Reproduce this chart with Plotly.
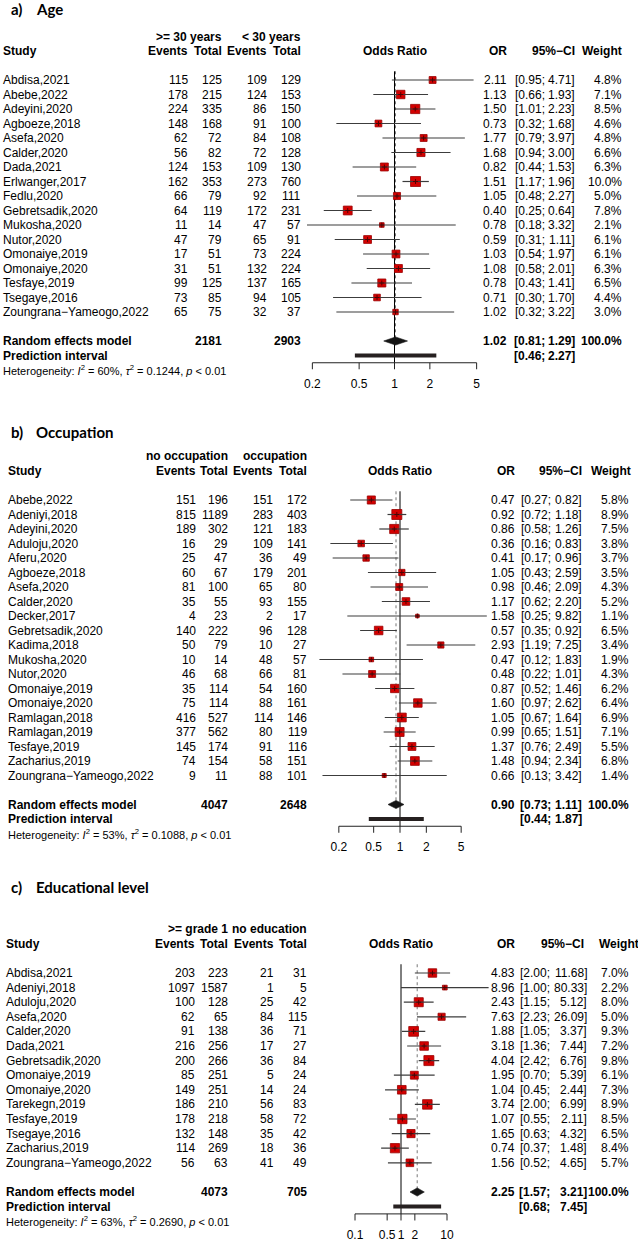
import plotly.graph_objects as go

W, H = 638, 1241
FONT = "Liberation Sans, Arial, sans-serif"
TITLE_FONT = "Lato, Open Sans, sans-serif"
MINUS = "\u2212"

# ---------------- a) Age ----------------
age_title = ["a)", "Age"]
age_groups = [">= 30 years", "< 30 years"]
age_study = ["Abdisa,2021", "Abebe,2022", "Adeyini,2020", "Agboeze,2018", "Asefa,2020",
             "Calder,2020", "Dada,2021", "Erlwanger,2017", "Fedlu,2020", "Gebretsadik,2020",
             "Mukosha,2020", "Nutor,2020", "Omonaiye,2019", "Omonaiye,2020", "Tesfaye,2019",
             "Tsegaye,2016", "Zoungrana" + MINUS + "Yameogo,2022"]
age_ev_e = [115, 178, 224, 148, 62, 56, 124, 162, 66, 64, 11, 47, 17, 31, 99, 73, 65]
age_n_e = [125, 215, 335, 168, 72, 82, 153, 353, 79, 119, 14, 79, 51, 51, 125, 85, 75]
age_ev_c = [109, 124, 86, 91, 84, 72, 109, 273, 92, 172, 47, 65, 73, 132, 137, 94, 32]
age_n_c = [129, 153, 150, 100, 108, 128, 130, 760, 111, 231, 57, 91, 224, 224, 165, 105, 37]
age_or = [2.11, 1.13, 1.50, 0.73, 1.77, 1.68, 0.82, 1.51, 1.05, 0.40, 0.78, 0.59, 1.03, 1.08, 0.78, 0.71, 1.02]
age_lo = [0.95, 0.66, 1.01, 0.32, 0.79, 0.94, 0.44, 1.17, 0.48, 0.25, 0.18, 0.31, 0.54, 0.58, 0.43, 0.30, 0.32]
age_hi = [4.71, 1.93, 2.23, 1.68, 3.97, 3.00, 1.53, 1.96, 2.27, 0.64, 3.32, 1.11, 1.97, 2.01, 1.41, 1.70, 3.22]
age_w = [4.8, 7.1, 8.5, 4.6, 4.8, 6.6, 6.3, 10.0, 5.0, 7.8, 2.1, 6.1, 6.1, 6.3, 6.5, 4.4, 3.0]
age_totals = [2181, 2903]
age_re = [1.02, 0.81, 1.29]
age_pi = [0.46, 2.27]
age_het = ["60%", "0.1244", "0.01"]
age_ticks = [0.2, 0.5, 1, 2, 5]

# ---------------- b) Occupation ----------------
occ_title = ["b)", "Occupation"]
occ_groups = ["no occupation", "occupation"]
occ_study = ["Abebe,2022", "Adeniyi,2018", "Adeyini,2020", "Aduloju,2020", "Aferu,2020",
             "Agboeze,2018", "Asefa,2020", "Calder,2020", "Decker,2017", "Gebretsadik,2020",
             "Kadima,2018", "Mukosha,2020", "Nutor,2020", "Omonaiye,2019", "Omonaiye,2020",
             "Ramlagan,2018", "Ramlagan,2019", "Tesfaye,2019", "Zacharius,2019",
             "Zoungrana" + MINUS + "Yameogo,2022"]
occ_ev_e = [151, 815, 189, 16, 25, 60, 81, 35, 4, 140, 50, 10, 46, 35, 75, 416, 377, 145, 74, 9]
occ_n_e = [196, 1189, 302, 29, 47, 67, 100, 55, 23, 222, 79, 14, 68, 114, 114, 527, 562, 174, 154, 11]
occ_ev_c = [151, 283, 121, 109, 36, 179, 65, 93, 2, 96, 10, 48, 66, 54, 88, 114, 80, 91, 58, 88]
occ_n_c = [172, 403, 183, 141, 49, 201, 80, 155, 17, 128, 27, 57, 81, 160, 161, 146, 119, 116, 151, 101]
occ_or = [0.47, 0.92, 0.86, 0.36, 0.41, 1.05, 0.98, 1.17, 1.58, 0.57, 2.93, 0.47, 0.48, 0.87, 1.60,
          1.05, 0.99, 1.37, 1.48, 0.66]
occ_lo = [0.27, 0.72, 0.58, 0.16, 0.17, 0.43, 0.46, 0.62, 0.25, 0.35, 1.19, 0.12, 0.22, 0.52, 0.97,
          0.67, 0.65, 0.76, 0.94, 0.13]
occ_hi = [0.82, 1.18, 1.26, 0.83, 0.96, 2.59, 2.09, 2.20, 9.82, 0.92, 7.25, 1.83, 1.01, 1.46, 2.62,
          1.64, 1.51, 2.49, 2.34, 3.42]
occ_w = [5.8, 8.9, 7.5, 3.8, 3.7, 3.5, 4.3, 5.2, 1.1, 6.5, 3.4, 1.9, 4.3, 6.2, 6.4, 6.9, 7.1, 5.5, 6.8, 1.4]
occ_totals = [4047, 2648]
occ_re = [0.90, 0.73, 1.11]
occ_pi = [0.44, 1.87]
occ_het = ["53%", "0.1088", "0.01"]
occ_ticks = [0.2, 0.5, 1, 2, 5]

# ---------------- c) Educational level ----------------
edu_title = ["c)", "Educational level"]
edu_groups = [">= grade 1", "no education"]
edu_study = ["Abdisa,2021", "Adeniyi,2018", "Aduloju,2020", "Asefa,2020", "Calder,2020",
             "Dada,2021", "Gebretsadik,2020", "Omonaiye,2019", "Omonaiye,2020", "Tarekegn,2019",
             "Tesfaye,2019", "Tsegaye,2016", "Zacharius,2019", "Zoungrana" + MINUS + "Yameogo,2022"]
edu_ev_e = [203, 1097, 100, 62, 91, 216, 200, 85, 149, 186, 178, 132, 114, 56]
edu_n_e = [223, 1587, 128, 65, 138, 256, 266, 251, 251, 210, 218, 148, 269, 63]
edu_ev_c = [21, 1, 25, 84, 36, 17, 36, 5, 14, 56, 58, 35, 18, 41]
edu_n_c = [31, 5, 42, 115, 71, 27, 84, 24, 24, 83, 72, 42, 36, 49]
edu_or = [4.83, 8.96, 2.43, 7.63, 1.88, 3.18, 4.04, 1.95, 1.04, 3.74, 1.07, 1.65, 0.74, 1.56]
edu_lo = [2.00, 1.00, 1.15, 2.23, 1.05, 1.36, 2.42, 0.70, 0.45, 2.00, 0.55, 0.63, 0.37, 0.52]
edu_hi = [11.68, 80.33, 5.12, 26.09, 3.37, 7.44, 6.76, 5.39, 2.44, 6.99, 2.11, 4.32, 1.48, 4.65]
edu_w = [7.0, 2.2, 8.0, 5.0, 9.3, 7.2, 9.8, 6.1, 7.3, 8.9, 8.5, 6.5, 8.4, 5.7]
edu_totals = [4073, 705]
edu_re = [2.25, 1.57, 3.21]
edu_pi = [0.68, 7.45]
edu_het = ["63%", "0.2690", "0.01"]
edu_ticks = [0.1, 0.5, 1, 2, 10]

# layout of each panel (pixels): first row, row step, x of OR=1, px per decade,
# column right edges [study(left), ev_e, n_e, ev_c, n_c, OR, CI low, CI high, weight, CI head, weight head]
panels = [
    dict(title=age_title, groups=age_groups, study=age_study, ev_e=age_ev_e, n_e=age_n_e,
         ev_c=age_ev_c, n_c=age_n_c, orr=age_or, lo=age_lo, hi=age_hi, w=age_w,
         totals=age_totals, re=age_re, pi=age_pi, het=age_het, ticks=age_ticks,
         top=0, bottom=405, y0=80, step=14.5, x1=394.5, ppd=117.5, lg=[-1.0, 1.0], title_y=9,
         cols=[1, 190.5, 224, 269, 303, 509, 547, 577, 624, 577, 624]),
    dict(title=occ_title, groups=occ_groups, study=occ_study, ev_e=occ_ev_e, n_e=occ_n_e,
         ev_c=occ_ev_c, n_c=occ_n_c, orr=occ_or, lo=occ_lo, hi=occ_hi, w=occ_w,
         totals=occ_totals, re=occ_re, pi=occ_pi, het=occ_het, ticks=occ_ticks,
         top=405, bottom=880, y0=500, step=14.5, x1=400, ppd=87.5, lg=[-1.2, 1.2], title_y=432,
         cols=[6, 198, 230, 275, 309, 517, 553, 584, 631, 584, 633]),
    dict(title=edu_title, groups=edu_groups, study=edu_study, ev_e=edu_ev_e, n_e=edu_n_e,
         ev_c=edu_ev_c, n_c=edu_n_c, orr=edu_or, lo=edu_lo, hi=edu_hi, w=edu_w,
         totals=edu_totals, re=edu_re, pi=edu_pi, het=edu_het, ticks=edu_ticks,
         top=880, bottom=1241, y0=973, step=14.6, x1=401, ppd=46, lg=[-1.5, 2.2], title_y=887,
         cols=[4, 197, 230, 275.5, 309, 517, 552, 589, 631, 586, 641]),
]


def esc(s):
    return str(s).replace("<", "&lt;").replace(">", "&gt;")


fig = go.Figure()
annotations = []


def txt(ya, px, row, s, anchor="right", bold=False, size=12, family=FONT):
    annotations.append(dict(
        xref="paper", yref=ya, x=px / W, y=row, showarrow=False,
        text="<b>" + s + "</b>" if bold else s,
        xanchor=anchor, yanchor="middle",
        font=dict(size=size, family=family, color="black")))


for k, p in enumerate(panels, start=1):
    sfx = "" if k == 1 else str(k)
    xa, ya = "x" + sfx, "y" + sfx
    n = len(p["study"])
    rows = list(range(n))
    r_re, r_pi, r_het = n + 1, n + 2, n + 3
    r_axis, r_lab = n + 2.5, n + 4
    c = p["cols"]

    # axes in row units / log odds ratio
    lg0, lg1 = p["lg"]
    fig.update_layout(**{
        "xaxis" + sfx: dict(type="log", range=[lg0, lg1], visible=False, anchor=ya,
                            domain=[(p["x1"] + lg0 * p["ppd"]) / W, (p["x1"] + lg1 * p["ppd"]) / W]),
        "yaxis" + sfx: dict(range=[(p["bottom"] - p["y0"]) / p["step"], (p["top"] - p["y0"]) / p["step"]],
                            visible=False, anchor=xa,
                            domain=[1 - p["bottom"] / H, 1 - p["top"] / H]),
    })

    # reference line at 1 and pooled estimate
    fig.add_trace(go.Scatter(x=[1, 1], y=[-0.6, r_axis], mode="lines", xaxis=xa, yaxis=ya,
                             line=dict(color="black", width=1)))
    fig.add_trace(go.Scatter(x=[p["re"][0]] * 2, y=[-0.6, r_re], mode="lines", xaxis=xa, yaxis=ya,
                             line=dict(color="#777777", width=1, dash="dot")))

    # study squares and CI lines
    wmax = max(p["w"])
    sizes = [10 * (w / wmax) ** 0.5 for w in p["w"]]
    fig.add_trace(go.Scatter(x=p["orr"], y=rows, mode="markers", xaxis=xa, yaxis=ya, opacity=1,
                             marker=dict(symbol="square", size=sizes, color="#d40000", opacity=1,
                                         line=dict(color="#990000", width=0.8))))
    cx, cy = [], []
    for i in rows:
        cx += [p["lo"][i], p["hi"][i], None]
        cy += [i, i, None]
    fig.add_trace(go.Scatter(x=cx, y=cy, mode="lines", xaxis=xa, yaxis=ya,
                             line=dict(color="#3c3c3c", width=1.2)))
    fig.add_trace(go.Scatter(x=p["orr"], y=rows, mode="markers", xaxis=xa, yaxis=ya,
                             marker=dict(symbol="cross-thin", size=3.5,
                                         line=dict(color="#500000", width=1))))

    # random effects diamond and prediction interval
    est, lo, hi = p["re"]
    h = 0.28
    fig.add_trace(go.Scatter(x=[lo, est, hi, est, lo], y=[r_re, r_re - h, r_re, r_re + h, r_re],
                             mode="lines", fill="toself", fillcolor="#151515", xaxis=xa, yaxis=ya,
                             line=dict(color="#151515", width=0.6)))
    fig.add_trace(go.Scatter(x=p["pi"], y=[r_pi, r_pi], mode="lines", xaxis=xa, yaxis=ya,
                             line=dict(color="#262020", width=4)))

    # x axis drawn from the tick values
    t = p["ticks"]
    fig.add_trace(go.Scatter(x=[t[0], t[-1]], y=[r_axis, r_axis], mode="lines", xaxis=xa, yaxis=ya,
                             line=dict(color="#222222", width=1)))
    tx, ty = [], []
    for v in t:
        tx += [v, v, None]
        ty += [r_axis, r_axis + 0.45, None]
    fig.add_trace(go.Scatter(x=tx, y=ty, mode="lines", xaxis=xa, yaxis=ya,
                             line=dict(color="#222222", width=1)))
    fig.add_trace(go.Scatter(x=t, y=[r_lab] * len(t), mode="text", xaxis=xa, yaxis=ya,
                             text=[f"{v:g}" for v in t], textposition="middle center",
                             textfont=dict(size=12, family=FONT, color="black"), cliponaxis=False))

    # panel title
    title_row = (p["title_y"] - p["y0"]) / p["step"]
    txt(ya, 9, title_row, p["title"][0], anchor="left", bold=True, size=15, family=TITLE_FONT)
    txt(ya, 34, title_row, p["title"][1], anchor="left", bold=True, size=15, family=TITLE_FONT)

    # header
    txt(ya, c[2], -3, esc(p["groups"][0]), bold=True)
    txt(ya, c[4], -3, esc(p["groups"][1]), bold=True)
    txt(ya, c[0], -2, "Study", anchor="left", bold=True)
    for col, lab in zip([c[1], c[2], c[3], c[4]], ["Events", "Total", "Events", "Total"]):
        txt(ya, col, -2, lab, bold=True)
    txt(ya, p["x1"], -2, "Odds Ratio", anchor="center", bold=True)
    txt(ya, c[5], -2, "OR", bold=True)
    txt(ya, c[9], -2, "95%" + MINUS + "CI", bold=True)
    txt(ya, c[10], -2, "Weight", bold=True)

    # study rows
    for i in rows:
        txt(ya, c[0], i, p["study"][i], anchor="left")
        txt(ya, c[1], i, str(p["ev_e"][i]))
        txt(ya, c[2], i, str(p["n_e"][i]))
        txt(ya, c[3], i, str(p["ev_c"][i]))
        txt(ya, c[4], i, str(p["n_c"][i]))
        txt(ya, c[5], i, f"{p['orr'][i]:.2f}")
        txt(ya, c[6], i, f"[{p['lo'][i]:.2f};")
        txt(ya, c[7], i, f"{p['hi'][i]:.2f}]")
        txt(ya, c[8], i, f"{p['w'][i]:.1f}%")

    # summary rows
    txt(ya, c[0], r_re, "Random effects model", anchor="left", bold=True)
    txt(ya, c[2], r_re, str(p["totals"][0]), bold=True)
    txt(ya, c[4], r_re, str(p["totals"][1]), bold=True)
    txt(ya, c[5], r_re, f"{est:.2f}", bold=True)
    txt(ya, c[6], r_re, f"[{lo:.2f};", bold=True)
    txt(ya, c[7], r_re, f"{hi:.2f}]", bold=True)
    txt(ya, c[8], r_re, "100.0%", bold=True)
    txt(ya, c[0], r_pi, "Prediction interval", anchor="left", bold=True)
    txt(ya, c[6], r_pi, f"[{p['pi'][0]:.2f};", bold=True)
    txt(ya, c[7], r_pi, f"{p['pi'][1]:.2f}]", bold=True)
    i2, tau2, pval = p["het"]
    txt(ya, c[0], r_het,
        f"Heterogeneity: <i>I</i><sup>2</sup> = {i2}, <i>\u03c4</i><sup>2</sup> = {tau2}, "
        f"<i>p</i> &lt; {pval}", anchor="left", size=11)

fig.update_layout(
    width=W, height=H, margin=dict(l=0, r=0, t=0, b=0),
    paper_bgcolor="white", plot_bgcolor="white", showlegend=False,
    annotations=annotations,
)

fig.write_html("out.html", config={"displayModeBar": False},
               post_script="document.body.style.margin='0';")
